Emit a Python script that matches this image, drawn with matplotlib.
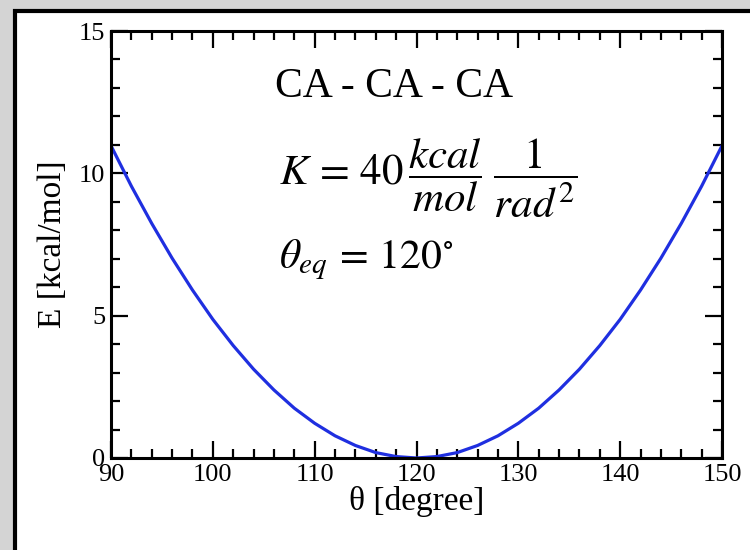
"""Harmonic angle potential for CA-CA-CA, E vs theta."""
import matplotlib

matplotlib.use("Agg")
import matplotlib.pyplot as plt
from matplotlib.patches import Rectangle
from matplotlib.ticker import MultipleLocator

plt.rcParams["font.family"] = ["Liberation Serif", "DejaVu Serif"]
plt.rcParams["mathtext.fontset"] = "stix"

# angle [degree] and energy [kcal/mol]
theta = [90, 92, 94, 96, 98, 100, 102, 104, 106, 108, 110, 112, 114, 116, 118,
         120, 122, 124, 126, 128, 130, 132, 134, 136, 138, 140, 142, 144, 146,
         148, 150]
energy = [10.97, 9.55, 8.24, 7.02, 5.90, 4.87, 3.95, 3.12, 2.39, 1.75, 1.22,
          0.78, 0.44, 0.19, 0.05, 0.0, 0.05, 0.19, 0.44, 0.78, 1.22, 1.75,
          2.39, 3.12, 3.95, 4.87, 5.90, 7.02, 8.24, 9.55, 10.97]

fig = plt.figure(figsize=(7.5, 5.5), dpi=100, facecolor="#d4d4d4")
# white panel with heavy black frame, behind the axes
fig.patches.append(Rectangle((15 / 750, -0.1), 1.1, 1.1 - 11 / 550,
                             transform=fig.transFigure, facecolor="white",
                             edgecolor="black", linewidth=3, zorder=-10))

ax = fig.add_axes([111 / 750, 1 - 458 / 550, 611 / 750, 427 / 550])
ax.set_zorder(5)
ax.plot(theta, energy, color="#1f2fe0", linewidth=2.3)

ax.set_xlim(90, 150)
ax.set_ylim(0, 15)
ax.xaxis.set_major_locator(MultipleLocator(10))
ax.xaxis.set_minor_locator(MultipleLocator(2))
ax.yaxis.set_major_locator(MultipleLocator(5))
ax.yaxis.set_minor_locator(MultipleLocator(1))
ax.tick_params(which="both", direction="in", top=True, right=True,
               width=1.6, labelsize=19, pad=4)
ax.tick_params(which="major", length=12)
ax.tick_params(which="minor", length=6.5)
for s in ax.spines.values():
    s.set_linewidth(2.2)

ax.set_xlabel(r"θ [degree]", fontsize=24, labelpad=0)
ax.set_ylabel("E [kcal/mol]", fontsize=24, labelpad=8)

ax.text(106.1, 13.05, "CA - CA - CA", fontsize=30, va="center", ha="left")
ax.text(106.5, 9.84,
        r"$K\,=\,40\,\dfrac{kcal}{mol}\;\dfrac{1}{rad^{2}}$",
        fontsize=31, va="center", ha="left")
ax.text(106.5, 6.95, r"$\theta_{eq}\,=\,120^{\circ}$", fontsize=30,
        va="center", ha="left")

fig.savefig("out.png", dpi=100, facecolor=fig.get_facecolor())
